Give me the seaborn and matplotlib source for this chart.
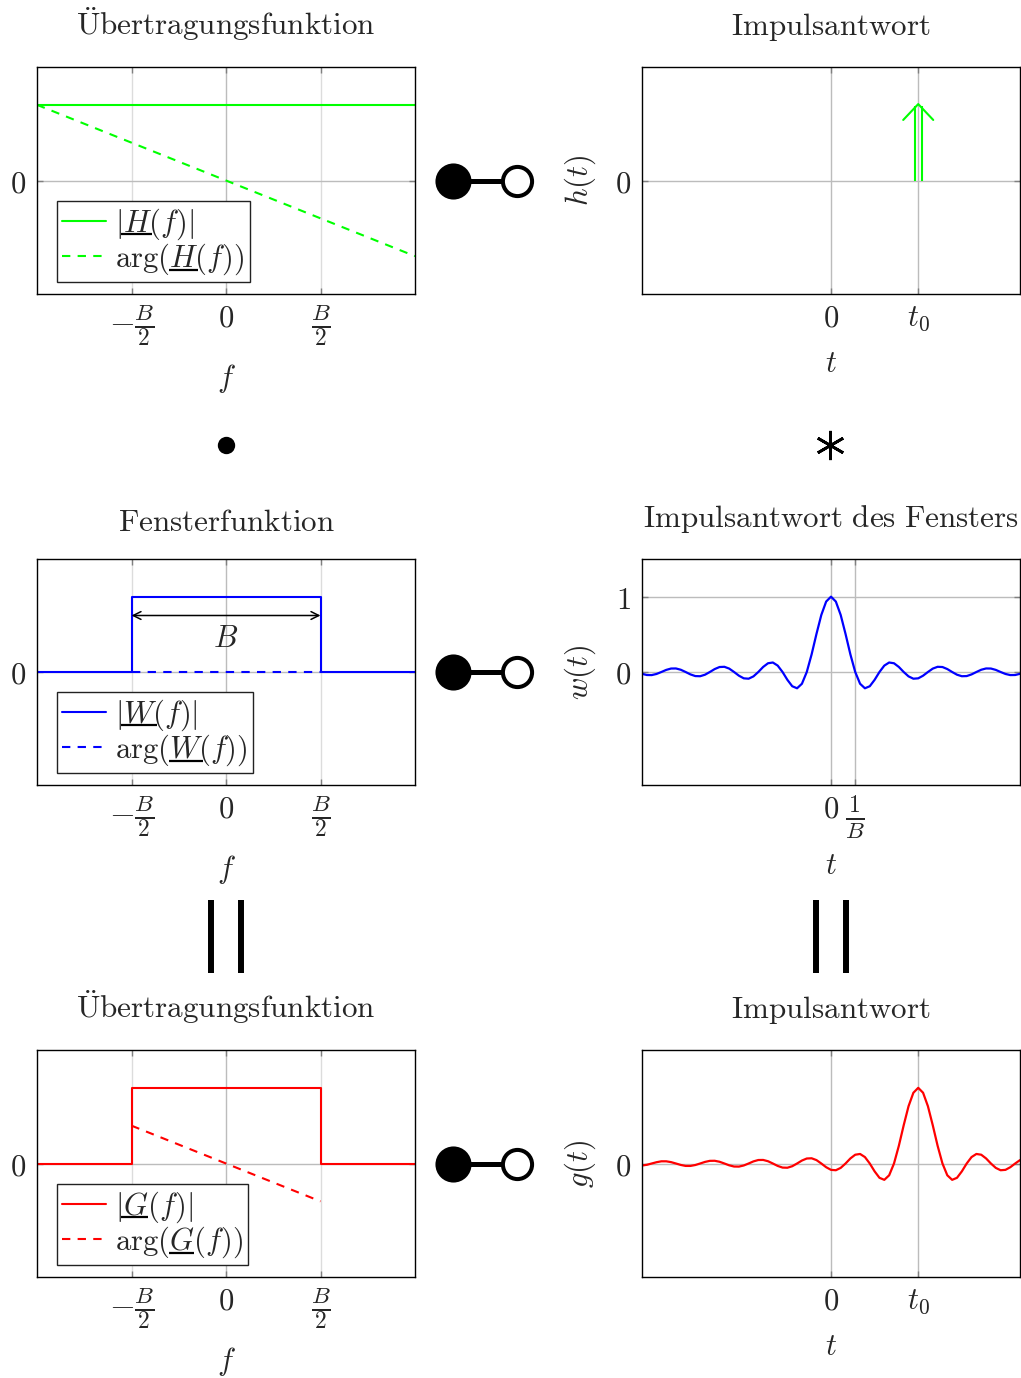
import numpy as np
import pandas as pd
import seaborn as sns
import matplotlib.pyplot as plt
from matplotlib.lines import Line2D

# figure size in pixels
W, H = 1021, 1378

# frequency axis in units of B/2 (ticks at -1, 0, 1)
f_H = [-2, 2]
H_mag = [1, 1]
H_arg = [1, -1]

f_W = [-2, -1, -1, 1, 1, 2]
W_mag = [0, 0, 1, 1, 0, 0]
f_W_arg = [-1, 1]
W_arg = [0, 0]

f_G = [-2, -1, -1, 1, 1, 2]
G_mag = [0, 0, 1, 1, 0, 0]
f_G_arg = [-1, 1]
G_arg = [0.5, -0.5]

# time axis in units of 1/B
t0 = 3.6
h_weight = 1.0
t_lim = 7.8

# window impulse response w, read at steps of 0.2 from -11.4 to 7.8
u = np.linspace(-11.4, 7.8, 97)
w_vals = [-0.027, -0.017, 0.0, 0.017, 0.029, 0.029, 0.018, 0.0,
          -0.019, -0.032, -0.032, -0.020, 0.0, 0.021, 0.035, 0.036, 0.023, 0.0,
          -0.024, -0.040, -0.041, -0.026, 0.0, 0.028, 0.046, 0.047, 0.030, 0.0,
          -0.032, -0.054, -0.056, -0.036, 0.0, 0.039, 0.066, 0.069, 0.045, 0.0,
          -0.049, -0.084, -0.089, -0.058, 0.0, 0.067, 0.116, 0.126, 0.085, 0.0,
          -0.104, -0.189, -0.216, -0.156, 0.0, 0.234, 0.505, 0.757, 0.935, 1.0,
          0.935, 0.757, 0.505, 0.234, 0.0, -0.156, -0.216, -0.189, -0.104, 0.0,
          0.085, 0.126, 0.116, 0.067, 0.0, -0.058, -0.089, -0.084, -0.049, 0.0,
          0.045, 0.069, 0.066, 0.039, 0.0, -0.036, -0.056, -0.054, -0.032, 0.0,
          0.030, 0.047, 0.046, 0.028, 0.0, -0.026, -0.041, -0.040, -0.024]

GREEN, BLUE, RED = '#00ff00', '#0000ff', '#ff0000'
FS = 22
DASH = (0, (4, 3.5))

sns.set_style('white')
plt.rcParams['mathtext.fontset'] = 'cm'
plt.rcParams['font.family'] = ['DejaVu Serif']
plt.rcParams['axes.unicode_minus'] = False


def rect(left, top, right, bottom):
    return [left / W, 1 - bottom / H, (right - left) / W, (bottom - top) / H]


def style_axes(ax, xticks, xlabels, yticks, ylabels, xlim, light_x=()):
    ax.set_xlim(*xlim)
    ax.set_ylim(-1.5, 1.5)
    ax.set_xticks(xticks)
    ax.set_xticklabels(xlabels, fontsize=FS)
    for lab in ax.get_xticklabels():
        if 'frac' in lab.get_text():
            lab.set_fontsize(24)
    ax.set_yticks(yticks)
    ax.set_yticklabels(ylabels, fontsize=FS)
    ax.grid(True, color='#bcbcbc', lw=1.0)
    for gl, v in zip(ax.get_xgridlines(), xticks):
        if v in light_x:
            gl.set_color('#dcdcdc')
    ax.tick_params(direction='in', length=4.5, width=1, color='#808080',
                   top=True, right=True, bottom=True, left=True)
    ax.tick_params(axis='x', pad=6)
    ax.tick_params(axis='y', pad=8)
    for sp in ax.spines.values():
        sp.set_color('black')
        sp.set_linewidth(1.0)
    ax.set_axisbelow(True)


def title(ax, text, off=17.5):
    ax.annotate(text, xy=(0.5, 1), xycoords='axes fraction', xytext=(0, off),
                textcoords='offset points', ha='center', va='bottom', fontsize=22.4)


def legend(ax):
    ax.legend(loc='lower left', bbox_to_anchor=(0.053, 0.053), borderaxespad=0,
              fontsize=FS, frameon=True, fancybox=False, framealpha=1,
              edgecolor='#222222', handlelength=1.45, handletextpad=0.3,
              borderpad=0.16, labelspacing=0.0).get_frame().set_linewidth(1.0)


fig = plt.figure(figsize=(W / 100, H / 100), dpi=100)

f_ticks = [-1, 0, 1]
f_labels = [r'$-\frac{B}{2}$', r'$0$', r'$\frac{B}{2}$']
f_xlim = (-2, 2)
t_xlim = (-t_lim, t_lim)

# ---- row 1: H(f) and h(t)
ax1 = fig.add_axes(rect(37, 67, 415, 294))
sns.lineplot(x=f_H, y=H_mag, ax=ax1, color=GREEN, lw=1.5, sort=False, estimator=None,
             label=r'$|H(f)|$')
sns.lineplot(x=f_H, y=H_arg, ax=ax1, color=GREEN, lw=1.5, sort=False, estimator=None,
             linestyle=DASH, label=r'$\arg(H(f))$')
style_axes(ax1, f_ticks, f_labels, [0], [r'$0$'], f_xlim, light_x=(-1, 1))
ax1.set_xlabel(r'$f$', fontsize=FS, labelpad=10)
ax1.set_ylabel('')
title(ax1, r'$\mathrm{\ddot{U}bertragungsfunktion}$')
legend(ax1)

ax2 = fig.add_axes(rect(642, 67, 1020, 294))
ax2.vlines([t0 - 0.15, t0 + 0.15], 0, 0.98 * h_weight, color=GREEN, lw=1.5)
ax2.plot([t0 - 0.62, t0, t0 + 0.62], [h_weight - 0.2, h_weight + 0.01, h_weight - 0.2],
         color=GREEN, lw=1.5)
style_axes(ax2, [0, t0], [r'$0$', r'$t_0$'], [0], [r'$0$'], t_xlim)
ax2.set_xlabel(r'$t$', fontsize=FS, labelpad=10.5)
ax2.set_ylabel(r'$h(t)$', fontsize=FS, labelpad=12)
title(ax2, r'$\mathrm{Impulsantwort}$')

# ---- row 2: W(f) and w(t)
ax3 = fig.add_axes(rect(37, 559, 415, 785))
sns.lineplot(x=f_W, y=W_mag, ax=ax3, color=BLUE, lw=1.5, sort=False, estimator=None,
             label=r'$|W(f)|$')
sns.lineplot(x=f_W_arg, y=W_arg, ax=ax3, color=BLUE, lw=1.5, sort=False, estimator=None,
             linestyle=DASH, label=r'$\arg(W(f))$')
ax3.annotate('', xy=(f_W[1], 0.75), xytext=(f_W[3], 0.75),
             arrowprops=dict(arrowstyle='<->', color='black', lw=1.1,
                             shrinkA=0, shrinkB=0, mutation_scale=14))
ax3.text(0, 0.45, r'$B$', fontsize=FS, ha='center', va='center')
style_axes(ax3, f_ticks, f_labels, [0], [r'$0$'], f_xlim, light_x=(-1, 1))
ax3.set_xlabel(r'$f$', fontsize=FS, labelpad=10)
ax3.set_ylabel('')
title(ax3, r'$\mathrm{Fensterfunktion}$', off=15.0)
legend(ax3)

df_w = pd.DataFrame({'t': u, 'w': w_vals})
df_w = df_w[df_w['t'] >= -t_lim - 1e-9]
ax4 = fig.add_axes(rect(642, 559, 1020, 785))
sns.lineplot(data=df_w, x='t', y='w', ax=ax4, color=BLUE, lw=1.6, sort=False, estimator=None)
style_axes(ax4, [0, 1], [r'$0$', r'$\frac{1}{B}$'], [0, 1], [r'$0$', r'$1$'], t_xlim)
ax4.set_xlabel(r'$t$', fontsize=FS, labelpad=6)
ax4.set_ylabel(r'$w(t)$', fontsize=FS, labelpad=12)
title(ax4, r'$\mathrm{Impulsantwort\ des\ Fensters}$')

# ---- row 3: G(f) and g(t)
ax5 = fig.add_axes(rect(37, 1050, 415, 1277))
sns.lineplot(x=f_G, y=G_mag, ax=ax5, color=RED, lw=1.5, sort=False, estimator=None,
             label=r'$|G(f)|$')
sns.lineplot(x=f_G_arg, y=G_arg, ax=ax5, color=RED, lw=1.5, sort=False, estimator=None,
             linestyle=DASH, label=r'$\arg(G(f))$')
style_axes(ax5, f_ticks, f_labels, [0], [r'$0$'], f_xlim, light_x=(-1, 1))
ax5.set_xlabel(r'$f$', fontsize=FS, labelpad=10)
ax5.set_ylabel('')
title(ax5, r'$\mathrm{\ddot{U}bertragungsfunktion}$')
legend(ax5)

df_g = pd.DataFrame({'t': u + t0, 'g': w_vals})
df_g = df_g[df_g['t'] <= t_lim + 1e-9]
ax6 = fig.add_axes(rect(642, 1050, 1020, 1277))
sns.lineplot(data=df_g, x='t', y='g', ax=ax6, color=RED, lw=1.6, sort=False, estimator=None)
style_axes(ax6, [0, t0], [r'$0$', r'$t_0$'], [0], [r'$0$'], t_xlim)
ax6.set_xlabel(r'$t$', fontsize=FS, labelpad=10.5)
ax6.set_ylabel(r'$g(t)$', fontsize=FS, labelpad=12)
title(ax6, r'$\mathrm{Impulsantwort}$')


# ---- correspondence symbols between the columns
def fx(x):
    return x / W


def fy(y):
    return 1 - y / H


for yc in [181, 672, 1164]:
    fig.add_artist(Line2D([fx(453), fx(505)], [fy(yc), fy(yc)], lw=3.6, color='black',
                          transform=fig.transFigure))
    fig.add_artist(Line2D([fx(453)], [fy(yc)], marker='o', ms=26, mew=0, color='black',
                          transform=fig.transFigure))
    fig.add_artist(Line2D([fx(517)], [fy(yc)], marker='o', ms=21, mfc='white',
                          mec='black', mew=2.9, transform=fig.transFigure))

# product and convolution signs
fig.add_artist(Line2D([fx(226)], [fy(445)], marker='o', ms=12.5, mew=0, color='black',
                      transform=fig.transFigure))
fig.add_artist(Line2D([fx(830)], [fy(445)], marker=(6, 2, 0), ms=21, mew=2.0,
                      color='black', transform=fig.transFigure))

# equal signs (vertical bars)
for xc in [211, 241, 816, 846]:
    fig.add_artist(Line2D([fx(xc), fx(xc)], [fy(900), fy(973)], lw=4.3, color='black',
                          solid_capstyle='butt', transform=fig.transFigure))

# underline the complex letter in the legend entries (mathtext has no \underline)
fig.canvas.draw()
renderer = fig.canvas.get_renderer()
to_fig = fig.transFigure.inverted()
for ax in [ax1, ax3, ax5]:
    for txt in ax.get_legend().get_texts():
        s = txt.get_text()
        prop = txt.get_fontproperties()
        i = min(s.index(c) for c in 'HWG' if c in s)
        w_pre = renderer.get_text_width_height_descent(s[:i] + '$', prop, ismath=True)[0]
        w_thr = renderer.get_text_width_height_descent(s[:i + 1] + '$', prop, ismath=True)[0]
        desc = renderer.get_text_width_height_descent(s, prop, ismath=True)[2]
        bb = txt.get_window_extent(renderer)
        y_line = bb.y0 + desc - 3
        p0 = to_fig.transform((bb.x0 + w_pre - 1, y_line))
        p1 = to_fig.transform((bb.x0 + w_thr - 1, y_line))
        fig.add_artist(Line2D([p0[0], p1[0]], [p0[1], p1[1]], lw=1.6, color='black',
                              solid_capstyle='butt', transform=fig.transFigure))

fig.savefig('out.png', dpi=100)
